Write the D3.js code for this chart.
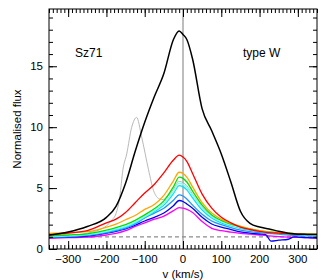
<!DOCTYPE html>
<html>
<head>
<meta charset="utf-8">
<script src="https://cdn.jsdelivr.net/npm/d3@7"></script>
<style>
  body { margin: 0; background: #fff; }
  text { font-family: "Liberation Sans", Arial, sans-serif; }
</style>
</head>
<body>
<div id="chart"></div>
<script>
// velocity grid (km/s) shared by most spectra
var vel = [-350,-300,-250,-200,-175,-150,-125,-100,-75,-50,-25,-10,0,10,25,50,75,100,125,150,175,200,225,250,275,300,325,350];

var fluxBlack   = [1.15,1.4,1.85,2.6,3.5,5.4,8.0,10.4,12.5,14.4,17.2,17.9,17.6,17.2,15.6,11.5,9.7,7.8,5.5,3.1,2.1,1.8,1.65,1.45,1.3,1.22,1.2,1.18];
var fluxRed     = [1.15,1.3,1.5,2.15,2.45,3.0,3.8,4.6,5.3,6.25,7.3,7.7,7.55,7.2,6.2,4.5,3.35,2.6,2.15,1.8,1.6,1.45,1.35,1.3,1.25,1.22,1.2,1.2];
var fluxOrange  = [1.28,1.35,1.42,1.8,2.05,2.4,2.75,3.25,3.65,4.4,5.6,6.3,6.2,5.9,5.1,3.8,2.95,2.45,2.1,1.85,1.65,1.5,1.4,1.35,1.3,1.25,1.22,1.2];
var fluxGreen   = [1.07,1.15,1.25,1.55,1.75,2.0,2.35,2.8,3.3,3.95,5.1,5.9,5.8,5.5,4.75,3.6,2.8,2.35,2.05,1.85,1.65,1.5,1.4,1.35,1.3,1.25,1.22,1.2];
var fluxAqua    = [1.03,1.1,1.2,1.45,1.65,1.85,2.2,2.65,3.15,3.75,4.7,5.4,5.3,5.05,4.4,3.35,2.65,2.25,1.95,1.75,1.6,1.45,1.38,1.3,1.25,1.2,1.17,1.15];
var fluxCyan    = [1.0,1.07,1.17,1.42,1.6,1.8,2.15,2.6,3.05,3.6,4.55,5.2,5.1,4.85,4.2,3.2,2.55,2.15,1.9,1.7,1.55,1.42,1.35,1.28,1.22,1.18,1.15,1.12];
var fluxSky     = [0.98,1.02,1.12,1.35,1.5,1.72,2.05,2.55,2.95,3.35,4.0,4.45,4.35,4.1,3.6,2.85,2.3,2.0,1.75,1.55,1.42,1.34,1.28,1.22,1.15,1.1,1.08,1.05];
var fluxMagenta = [0.88,0.93,0.97,1.15,1.28,1.5,1.85,2.15,2.45,2.7,3.15,3.4,3.35,3.25,3.0,2.25,1.7,1.5,1.38,1.29,1.22,1.15,1.08,1.02,0.98,0.95,0.93,0.92];

// blue spectrum has a dip near +230 km/s
var velBlue  = [-350,-300,-250,-200,-175,-150,-125,-100,-75,-50,-25,-10,0,10,25,50,75,100,125,150,175,200,215,230,250,275,290,300,325,350];
var fluxBlue = [0.93,0.98,1.05,1.3,1.45,1.65,1.95,2.3,2.6,2.95,3.55,3.98,3.9,3.7,3.35,2.6,2.05,1.8,1.6,1.4,1.3,1.23,1.2,0.65,0.72,0.8,1.0,0.98,0.93,0.9];

// thin grey spectrum with the extra peak at -120 km/s
var velGrey  = [-350,-300,-250,-200,-185,-175,-165,-157,-147,-134,-121,-108,-90,-77,-64,-56,-40,-25,-10,0,10,25,50,75,100,150,200,250,300,350];
var fluxGrey = [1.0,1.1,1.3,1.9,2.4,2.9,4.3,6.5,7.8,10.0,10.8,9.2,6.5,4.8,4.15,4.05,4.3,4.9,5.55,5.45,5.2,4.5,3.45,2.7,2.3,1.75,1.45,1.3,1.2,1.15];

var xTicks = [-300,-200,-100,0,100,200,300];
var yTicks = [0,5,10,15];

var width = 327, height = 280;
var margin = { left: 49, top: 9, right: 10, bottom: 31 };
var w = width - margin.left - margin.right;
var h = height - margin.top - margin.bottom;

var x = d3.scaleLinear().domain([-350, 350]).range([0, w]);
var y = d3.scaleLinear().domain([0, 19.7]).range([h, 0]);

var svg = d3.select("#chart").append("svg")
  .attr("width", width)
  .attr("height", height);

var g = svg.append("g")
  .attr("transform", "translate(" + margin.left + "," + margin.top + ")");

var clip = g.append("clipPath").attr("id", "clip");
clip.append("rect").attr("width", w).attr("height", h);

// zero velocity line and continuum level
g.append("line")
  .attr("x1", x(0)).attr("x2", x(0))
  .attr("y1", 0).attr("y2", h)
  .attr("stroke", "#bdbdbd")
  .attr("stroke-width", 2);

g.append("line")
  .attr("x1", 0).attr("x2", w)
  .attr("y1", y(1)).attr("y2", y(1))
  .attr("stroke", "#8c8c8c")
  .attr("stroke-width", 1.2)
  .attr("stroke-dasharray", "4,3");

var series = [
  { v: velGrey, f: fluxGrey, color: "#b0b0b0", sw: 0.9 },
  { v: vel, f: fluxMagenta, color: "#ff00ff", sw: 1.3 },
  { v: velBlue, f: fluxBlue, color: "#0000ff", sw: 1.3 },
  { v: vel, f: fluxSky, color: "#1e96ff", sw: 1.3 },
  { v: vel, f: fluxCyan, color: "#00e0ff", sw: 1.3 },
  { v: vel, f: fluxAqua, color: "#80fff0", sw: 1.3 },
  { v: vel, f: fluxGreen, color: "#00e000", sw: 1.3 },
  { v: vel, f: fluxOrange, color: "#ffa500", sw: 1.3 },
  { v: vel, f: fluxRed, color: "#ff0000", sw: 1.3 },
  { v: vel, f: fluxBlack, color: "#000000", sw: 1.5 }
];

var line = d3.line()
  .x(function(d) { return x(d[0]); })
  .y(function(d) { return y(d[1]); })
  .curve(d3.curveMonotoneX);

g.append("g").attr("clip-path", "url(#clip)")
  .selectAll("path")
  .data(series)
  .enter()
  .append("path")
  .attr("d", function(s) {
    return line(s.v.map(function(v, i) { return [v, s.f[i]]; }));
  })
  .attr("fill", "none")
  .attr("stroke", function(s) { return s.color; })
  .attr("stroke-width", function(s) { return s.sw; })
  .attr("stroke-linejoin", "round");

// axes: major + minor ticks, inward, on all four sides
var xMinor = d3.range(-350, 351, 10);
var yMinor = d3.range(0, 20, 1);

function tickAxis(axisFn, scale, values, size) {
  return axisFn(scale).tickValues(values).tickSizeInner(-size).tickSizeOuter(0).tickFormat("");
}

function drawAxis(axis, tx, ty) {
  var ax = g.append("g")
    .attr("transform", "translate(" + tx + "," + ty + ")")
    .call(axis);
  ax.select(".domain").remove();
  ax.selectAll("line").attr("stroke", "#000").attr("stroke-width", 1);
  ax.selectAll("text").remove();
  return ax;
}

drawAxis(tickAxis(d3.axisBottom, x, xMinor, 4), 0, h);
drawAxis(tickAxis(d3.axisBottom, x, xTicks, 8), 0, h);
drawAxis(tickAxis(d3.axisTop, x, xMinor, 4), 0, 0);
drawAxis(tickAxis(d3.axisTop, x, xTicks, 8), 0, 0);
drawAxis(tickAxis(d3.axisLeft, y, yMinor, 4), 0, 0);
drawAxis(tickAxis(d3.axisLeft, y, yTicks, 8), 0, 0);
drawAxis(tickAxis(d3.axisRight, y, yMinor, 4), w, 0);
drawAxis(tickAxis(d3.axisRight, y, yTicks, 8), w, 0);

// tick labels
g.selectAll(".xlab")
  .data(xTicks)
  .enter()
  .append("text")
  .attr("x", function(d) { return x(d); })
  .attr("y", h + 14)
  .attr("text-anchor", "middle")
  .attr("font-size", 11.5)
  .text(function(d) { return d < 0 ? "\u2212" + Math.abs(d) : d; });

g.selectAll(".ylab")
  .data(yTicks)
  .enter()
  .append("text")
  .attr("x", -6)
  .attr("y", function(d) { return y(d) + 4; })
  .attr("text-anchor", "end")
  .attr("font-size", 11.5)
  .text(function(d) { return d; });

// frame
g.append("rect")
  .attr("width", w).attr("height", h)
  .attr("fill", "none")
  .attr("stroke", "#000")
  .attr("stroke-width", 1);

// titles
svg.append("text")
  .attr("x", margin.left + w / 2)
  .attr("y", 278)
  .attr("text-anchor", "middle")
  .attr("font-size", 11.5)
  .text("v (km/s)");

svg.append("text")
  .attr("transform", "translate(21," + (margin.top + h / 2) + ") rotate(-90)")
  .attr("text-anchor", "middle")
  .attr("font-size", 11.5)
  .text("Normalised flux");

g.append("text")
  .attr("x", 26).attr("y", 48)
  .attr("font-size", 12)
  .text("Sz71");

g.append("text")
  .attr("x", 194).attr("y", 48)
  .attr("font-size", 12)
  .text("type W");
</script>
</body>
</html>
